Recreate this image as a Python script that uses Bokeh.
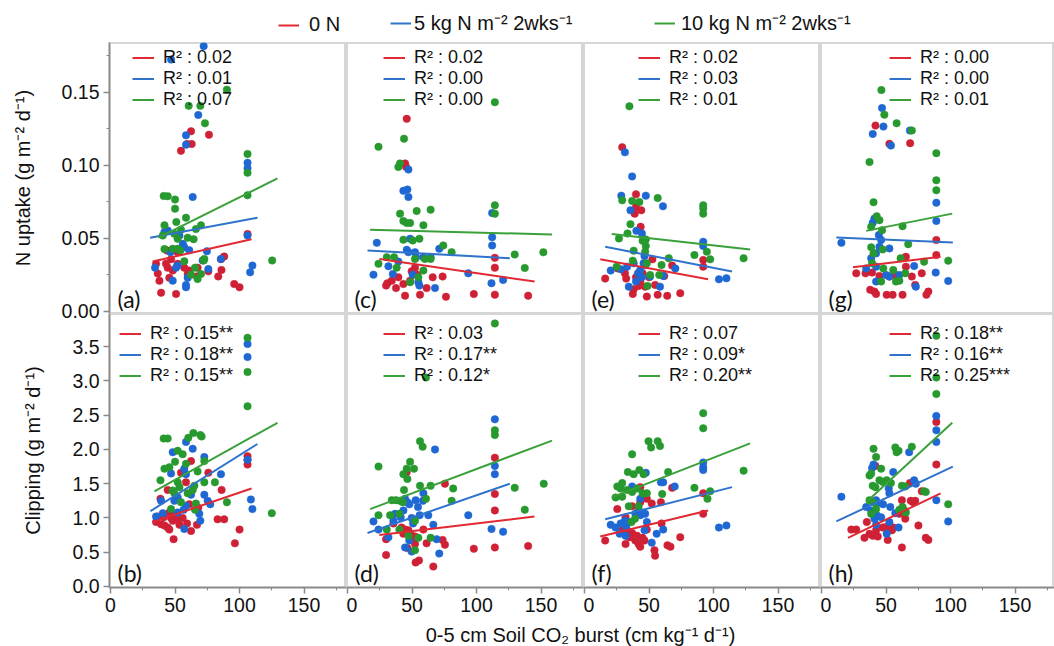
from bokeh.plotting import figure
from bokeh.layouts import column, row
from bokeh.models import (Range1d, Legend, LegendItem, Label, FixedTicker,
                          NumeralTickFormatter)
from bokeh.embed import file_html
from bokeh.resources import INLINE

# ---------------- data ----------------
series_names = ["0 N", "5 kg N m\u207b\u00b2 2wks\u207b\u00b9", "10 kg N m\u207b\u00b2 2wks\u207b\u00b9"]
y_title_top = "N uptake (g m\u207b\u00b2 d\u207b\u00b9)"
y_title_bottom = "Clipping (g m\u207b\u00b2 d\u207b\u00b9)"
x_title = "0-5 cm Soil CO\u2082 burst (cm kg\u207b\u00b9 d\u207b\u00b9)"
panel_tags = ["(a)", "(c)", "(e)", "(g)", "(b)", "(d)", "(f)", "(h)"]

x_ticks = [0, 50, 100, 150]
x_minor = [25, 75, 125, 175]
top_y_ticks = [0.00, 0.05, 0.10, 0.15]
top_y_minor = [0.025, 0.075, 0.125, 0.175]
bot_y_ticks = [0.0, 0.5, 1.0, 1.5, 2.0, 2.5, 3.0, 3.5]

# panel (a)  N uptake
a_red_x = [54.6, 59.3, 62.4, 62.9, 76.3, 106.2, 43.8, 35.3, 36.6, 37.9, 39.2, 43.0, 44.3, 45.6, 48.2, 50.8, 52.0, 57.2, 59.8, 61.0, 67.0, 75.8, 83.5, 86.0, 88.1, 85.6, 95.9, 100.0, 46.9, 67.5, 52.0]
a_red_y = [0.110, 0.1147, 0.1234, 0.1147, 0.121, 0.053, 0.0417, 0.0326, 0.026, 0.021, 0.0128, 0.0326, 0.030, 0.023, 0.028, 0.012, 0.0326, 0.030, 0.0257, 0.028, 0.024, 0.0275, 0.024, 0.0284, 0.0376, 0.0358, 0.0188, 0.0165, 0.0358, 0.030, 0.0406]
a_blue_x = [72.2, 46.9, 68.0, 58.5, 58.5, 63.7, 106.2, 106.2, 106.2, 110.0, 108.2, 34.5, 41.8, 44.3, 46.4, 48.2, 50.8, 52.0, 53.4, 56.0, 57.2, 58.5, 59.8, 61.0, 71.4, 74.7, 75.8, 85.6, 58.5]
a_blue_y = [0.1817, 0.1725, 0.1346, 0.1206, 0.1142, 0.0784, 0.1018, 0.098, 0.052, 0.0314, 0.0268, 0.030, 0.0544, 0.0555, 0.0406, 0.0211, 0.030, 0.0314, 0.052, 0.0463, 0.044, 0.0165, 0.023, 0.042, 0.0349, 0.0413, 0.029, 0.036, 0.0181]
a_green_x = [90.2, 60.6, 69.6, 73.2, 106.2, 106.2, 106.2, 125.3, 41.2, 44.3, 50.0, 50.0, 51.0, 58.5, 41.8, 40.5, 49.5, 52.0, 54.6, 59.8, 64.4, 66.2, 70.1, 41.8, 48.2, 52.0, 54.1, 57.2, 65.5, 62.4, 67.5, 70.1, 72.7, 72.2]
a_green_y = [0.1518, 0.1408, 0.1408, 0.1289, 0.1078, 0.095, 0.0796, 0.0349, 0.0791, 0.0789, 0.0766, 0.0704, 0.0612, 0.0642, 0.059, 0.052, 0.0532, 0.0498, 0.056, 0.0505, 0.0495, 0.0564, 0.059, 0.0427, 0.0429, 0.0429, 0.0417, 0.0344, 0.030, 0.0252, 0.0222, 0.0257, 0.036, 0.0349]

# panel (c)
c_red_x = [45.9, 44.6, 45.4, 29.9, 30.9, 34.3, 37.6, 39.4, 43.3, 44.6, 48.5, 49.7, 52.3, 54.1, 56.2, 61.3, 66.0, 73.7, 76.3, 97.9, 114.2, 114.2, 114.2, 140.0]
c_red_y = [0.1319, 0.1014, 0.099, 0.0177, 0.0193, 0.0211, 0.016, 0.0234, 0.0188, 0.0108, 0.0211, 0.0275, 0.030, 0.0252, 0.0115, 0.016, 0.0234, 0.0239, 0.0101, 0.0119, 0.0367, 0.030, 0.0115, 0.0108]
c_blue_x = [47.2, 43.3, 46.4, 47.2, 22.7, 20.1, 31.7, 35.1, 39.4, 45.9, 47.2, 48.5, 52.3, 53.1, 54.9, 55.7, 50.5, 58.8, 64.4, 67.8, 71.1, 93.6, 112.1, 112.1, 112.1, 111.6, 120.6]
c_blue_y = [0.0972, 0.0826, 0.0835, 0.0784, 0.047, 0.0252, 0.031, 0.0257, 0.0342, 0.0422, 0.0406, 0.0498, 0.0406, 0.0372, 0.020, 0.0177, 0.0252, 0.0372, 0.0372, 0.016, 0.0429, 0.0261, 0.0452, 0.0509, 0.0674, 0.0193, 0.0216]
c_green_x = [24.0, 43.8, 39.4, 40.7, 114.2, 114.2, 114.2, 40.7, 43.3, 45.9, 48.5, 53.6, 58.8, 64.4, 43.3, 50.5, 55.7, 24.0, 30.4, 36.1, 38.1, 52.3, 60.0, 64.4, 74.2, 80.7, 48.5, 54.9, 58.8, 129.6, 137.4, 151.8]
c_green_y = [0.1128, 0.1183, 0.099, 0.1014, 0.1433, 0.0727, 0.067, 0.067, 0.0619, 0.0606, 0.0606, 0.0688, 0.059, 0.0697, 0.0491, 0.0486, 0.0498, 0.0326, 0.0372, 0.0372, 0.030, 0.036, 0.036, 0.036, 0.0452, 0.0406, 0.020, 0.0234, 0.028, 0.039, 0.0298, 0.0405]

# panel (e)
e_red_x = [29.2, 39.9, 39.9, 44.0, 38.9, 43.5, 16.0, 31.3, 32.3, 37.4, 38.1, 39.9, 41.9, 43.2, 45.0, 47.0, 48.3, 50.1, 52.6, 54.7, 56.7, 61.8, 64.1, 67.9, 74.2, 92.0, 92.0, 25.7]
e_red_y = [0.1125, 0.0802, 0.0716, 0.0693, 0.067, 0.058, 0.0225, 0.0261, 0.0225, 0.012, 0.0152, 0.0234, 0.0175, 0.0205, 0.0261, 0.017, 0.0102, 0.0234, 0.0357, 0.0182, 0.0114, 0.0243, 0.0107, 0.0314, 0.0125, 0.0352, 0.0307, 0.0295]
e_blue_x = [31.3, 36.9, 28.5, 47.5, 60.8, 35.6, 40.2, 44.5, 20.3, 28.0, 33.0, 34.3, 38.1, 39.9, 41.4, 43.2, 44.5, 45.8, 46.5, 50.8, 58.5, 61.0, 70.4, 92.0, 92.0, 104.2, 110.0, 47.0]
e_blue_y = [0.109, 0.0925, 0.0793, 0.0793, 0.072, 0.0693, 0.0552, 0.0534, 0.028, 0.0289, 0.0307, 0.017, 0.033, 0.0205, 0.0261, 0.0284, 0.0234, 0.033, 0.038, 0.0239, 0.017, 0.0243, 0.0295, 0.0477, 0.0448, 0.022, 0.0227, 0.0318]
e_green_x = [34.8, 29.2, 36.9, 42.5, 56.7, 35.6, 33.3, 26.7, 47.5, 47.5, 47.0, 38.1, 37.4, 48.3, 59.7, 65.3, 24.9, 50.8, 57.9, 48.8, 92.0, 92.0, 92.0, 85.2, 94.8, 97.4, 123.3, 45.0]
e_green_y = [0.1405, 0.0761, 0.0757, 0.075, 0.0777, 0.0598, 0.0534, 0.050, 0.0493, 0.0448, 0.0409, 0.0416, 0.0348, 0.033, 0.0318, 0.0364, 0.0307, 0.025, 0.025, 0.0175, 0.0727, 0.0705, 0.067, 0.0386, 0.0409, 0.0357, 0.0364, 0.0484]

# panel (g)
g_red_x = [41.8, 52.6, 68.7, 89.0, 89.0, 26.9, 34.1, 37.7, 41.0, 42.3, 44.9, 50.5, 55.1, 57.2, 62.8, 65.4, 65.4, 70.0, 72.6, 77.7, 81.3, 82.8, 52.6, 39.2]
g_red_y = [0.1273, 0.1148, 0.1152, 0.0489, 0.0386, 0.0261, 0.0261, 0.0148, 0.0136, 0.012, 0.0243, 0.0114, 0.0114, 0.025, 0.0114, 0.0307, 0.0375, 0.0239, 0.0182, 0.0261, 0.0114, 0.0136, 0.0239, 0.0266]
g_blue_x = [46.9, 39.7, 48.0, 53.8, 68.5, 89.0, 89.0, 15.4, 39.7, 41.0, 44.4, 46.2, 52.6, 38.5, 42.3, 44.9, 34.6, 42.3, 50.0, 52.6, 60.3, 71.8, 73.1, 88.5, 98.2, 42.3]
g_blue_y = [0.1393, 0.1216, 0.1266, 0.1136, 0.1239, 0.0745, 0.062, 0.047, 0.0607, 0.0636, 0.0523, 0.0489, 0.0432, 0.0364, 0.0398, 0.0443, 0.0295, 0.0307, 0.025, 0.0239, 0.025, 0.0311, 0.017, 0.0266, 0.0209, 0.0205]
g_green_x = [46.4, 48.7, 58.2, 70.0, 37.2, 89.0, 89.0, 89.0, 40.3, 42.8, 44.9, 38.5, 46.9, 62.8, 38.5, 40.3, 47.4, 67.2, 61.3, 39.2, 47.9, 55.6, 79.5, 98.2, 46.2, 57.7, 60.3, 64.9]
g_green_y = [0.1516, 0.1348, 0.1289, 0.1239, 0.1023, 0.1084, 0.0898, 0.083, 0.0748, 0.0652, 0.0625, 0.058, 0.0557, 0.0584, 0.0439, 0.0398, 0.0425, 0.0461, 0.0364, 0.033, 0.0295, 0.0284, 0.0341, 0.0348, 0.0205, 0.0205, 0.0211, 0.0261]

# panel (b)  Clipping
b_red_x = [106.2, 106.2, 106.2, 62.4, 54.6, 58.5, 75.8, 44.3, 38.7, 61.1, 68.0, 86.1, 45.6, 50.0, 36.6, 41.2, 46.9, 48.2, 52.1, 55.9, 35.3, 39.2, 41.8, 44.3, 45.6, 53.4, 59.3, 62.4, 67.0, 48.9, 83.0, 88.1, 96.4, 100.0]
b_red_y = [1.90, 1.85, 1.78, 1.83, 1.66, 1.52, 1.66, 1.41, 1.28, 1.20, 1.15, 1.41, 1.08, 1.05, 1.02, 1.01, 1.00, 0.96, 0.97, 1.00, 0.94, 0.91, 0.89, 0.86, 0.83, 0.90, 0.92, 0.81, 0.90, 0.69, 0.98, 0.98, 0.63, 0.83]
b_blue_x = [106.2, 106.2, 106.2, 108.8, 110.0, 58.5, 63.7, 48.2, 72.7, 46.9, 58.5, 57.2, 72.7, 62.4, 52.1, 49.5, 39.2, 58.5, 77.3, 85.6, 35.3, 40.5, 52.1, 56.7, 68.8, 69.6, 57.2, 75.3]
b_blue_y = [3.54, 3.35, 1.85, 1.27, 1.13, 2.11, 2.01, 1.96, 1.89, 1.65, 1.64, 1.72, 1.34, 1.34, 1.30, 1.25, 1.25, 1.18, 1.20, 1.64, 1.02, 1.07, 1.08, 1.12, 1.06, 0.96, 0.84, 1.25]
b_green_x = [106.2, 106.2, 106.2, 125.0, 41.2, 44.3, 60.3, 64.2, 69.6, 70.6, 52.1, 55.9, 38.7, 41.8, 45.6, 50.0, 58.5, 72.7, 52.1, 48.2, 49.5, 53.4, 59.8, 63.7, 65.0, 72.7, 80.9, 67.5, 90.2, 46.9, 54.6, 66.2, 65.5]
b_green_y = [3.63, 3.13, 2.63, 1.07, 2.16, 2.16, 2.17, 2.24, 2.21, 2.19, 1.98, 1.93, 1.55, 1.72, 1.74, 1.82, 1.79, 1.83, 1.52, 1.40, 1.36, 1.45, 1.36, 1.41, 1.47, 1.52, 1.52, 1.68, 1.23, 1.13, 1.23, 1.21, 1.12]

# panel (d)
d_red_x = [45.9, 75.5, 114.2, 114.2, 114.2, 114.2, 29.9, 29.9, 35.6, 41.9, 44.6, 47.2, 48.5, 49.7, 51.0, 52.3, 46.4, 52.3, 52.8, 55.4, 58.8, 61.3, 66.5, 73.7, 75.5, 97.9, 140.0, 43.3]
d_red_y = [1.67, 1.50, 1.88, 1.35, 1.11, 0.57, 0.46, 0.69, 0.92, 0.86, 0.83, 0.82, 0.76, 0.74, 0.71, 0.73, 0.56, 0.62, 0.35, 0.38, 0.83, 0.63, 0.29, 0.68, 0.61, 0.55, 0.59, 0.77]
d_blue_x = [114.2, 114.2, 114.2, 111.6, 120.6, 93.6, 67.8, 20.1, 24.0, 31.7, 35.6, 36.9, 41.2, 43.3, 44.6, 46.4, 47.9, 49.7, 50.8, 52.8, 54.6, 55.9, 58.5, 62.6, 66.5, 69.1, 71.1, 47.9, 44.6, 49.7, 58.8]
d_blue_y = [2.44, 1.76, 1.64, 0.84, 0.80, 1.04, 2.00, 0.95, 0.83, 0.72, 0.96, 1.06, 1.01, 1.11, 1.28, 1.23, 1.20, 1.00, 0.92, 1.26, 1.16, 1.04, 1.25, 1.04, 0.90, 0.69, 0.48, 0.67, 0.57, 0.51, 1.36]
d_green_x = [114.2, 60.8, 114.2, 114.2, 56.2, 58.2, 48.5, 24.0, 45.9, 43.3, 46.4, 51.5, 43.8, 56.2, 64.4, 34.3, 37.6, 40.7, 42.8, 60.8, 81.9, 80.7, 129.6, 137.4, 24.0, 33.0, 40.2, 52.3, 47.2, 54.9, 52.3, 64.4, 30.4, 40.2, 152.1]
d_green_y = [3.84, 3.05, 2.28, 2.21, 2.12, 2.04, 1.82, 1.75, 1.72, 1.64, 1.57, 1.72, 1.41, 1.47, 1.47, 1.26, 1.26, 1.25, 1.23, 1.28, 1.43, 1.25, 1.44, 1.12, 1.04, 1.04, 1.06, 0.96, 0.74, 0.71, 0.53, 0.71, 0.83, 0.83, 1.50]

# panel (f)
f_red_x = [16.0, 25.4, 29.2, 31.8, 33.0, 34.8, 36.9, 38.1, 39.4, 40.7, 41.9, 43.2, 45.0, 46.5, 48.3, 36.9, 43.2, 43.2, 48.3, 52.1, 54.2, 54.7, 59.2, 59.7, 64.3, 66.6, 67.9, 74.2, 92.0, 92.0, 31.8]
f_red_y = [0.67, 1.13, 0.82, 0.62, 0.82, 0.72, 0.78, 0.71, 0.67, 0.74, 0.62, 0.58, 0.71, 0.67, 0.83, 1.17, 1.23, 1.45, 1.28, 1.21, 0.53, 0.45, 1.23, 0.92, 0.60, 0.58, 1.44, 0.72, 1.36, 1.06, 1.01]
f_blue_x = [92.0, 92.0, 92.0, 104.2, 110.0, 47.5, 59.2, 61.0, 69.9, 36.9, 43.2, 20.3, 24.1, 28.0, 31.3, 32.3, 34.3, 39.4, 41.9, 43.2, 44.5, 47.0, 48.3, 46.5, 52.1, 55.9, 61.0, 31.8, 27.2]
f_blue_y = [1.81, 1.74, 1.70, 0.86, 0.89, 1.66, 1.52, 1.52, 1.46, 1.46, 1.28, 0.90, 0.86, 0.92, 0.96, 0.87, 0.94, 1.06, 1.10, 1.04, 1.08, 1.06, 0.94, 0.82, 0.64, 0.77, 0.83, 0.74, 0.77]
f_green_x = [92.0, 92.0, 49.6, 56.7, 51.6, 58.5, 36.9, 33.6, 38.1, 42.5, 45.8, 64.8, 25.4, 28.0, 33.0, 36.9, 40.7, 45.0, 48.3, 24.1, 29.2, 34.3, 41.9, 39.1, 36.4, 60.2, 85.2, 97.4, 95.3, 123.3, 29.2]
f_green_y = [2.53, 2.31, 2.12, 2.12, 2.03, 2.05, 1.93, 1.67, 1.64, 1.70, 1.64, 1.67, 1.46, 1.43, 1.41, 1.38, 1.43, 1.36, 1.36, 1.30, 1.31, 1.17, 1.17, 0.99, 0.94, 1.35, 1.44, 1.39, 1.28, 1.69, 1.51]

# panel (h)
h_red_x = [89.0, 89.0, 68.5, 41.8, 69.2, 71.0, 72.6, 77.7, 62.3, 64.1, 60.3, 23.1, 26.9, 33.3, 35.1, 37.2, 39.7, 42.3, 43.6, 47.4, 50.0, 51.3, 52.6, 54.6, 55.6, 62.3, 75.1, 80.8, 82.8, 64.9]
h_red_y = [2.40, 1.78, 1.51, 1.76, 1.25, 1.23, 1.25, 1.39, 1.26, 1.11, 1.06, 0.83, 0.83, 0.71, 0.94, 0.77, 0.74, 0.82, 0.73, 0.86, 0.87, 0.68, 0.86, 0.82, 0.86, 0.57, 0.89, 0.71, 0.68, 0.99]
h_blue_x = [89.0, 89.0, 89.0, 89.0, 98.2, 15.4, 67.9, 55.6, 40.3, 39.2, 71.8, 73.1, 52.1, 52.6, 42.3, 42.8, 47.7, 53.3, 34.6, 38.5, 42.8, 41.0, 46.2, 52.6, 59.7, 42.3, 50.5, 57.2]
h_blue_y = [2.49, 2.28, 2.11, 1.26, 0.95, 1.31, 1.96, 1.67, 1.78, 1.73, 1.55, 1.50, 1.43, 1.36, 1.26, 1.21, 1.20, 1.16, 1.16, 1.11, 1.04, 0.99, 1.01, 0.94, 0.86, 0.90, 0.77, 1.07]
h_green_x = [89.0, 89.0, 89.0, 98.2, 40.3, 42.3, 57.2, 58.2, 59.7, 70.0, 37.2, 38.5, 46.2, 44.9, 47.9, 50.5, 53.8, 39.7, 41.8, 62.3, 64.9, 79.5, 80.8, 37.2, 39.7, 42.3, 38.5, 60.3, 65.4, 62.8]
h_green_y = [3.66, 3.05, 2.81, 1.20, 2.01, 1.89, 2.03, 1.96, 1.98, 2.04, 1.62, 1.65, 1.72, 1.55, 1.52, 1.55, 1.51, 1.47, 1.45, 1.47, 1.46, 1.39, 1.38, 1.26, 1.23, 1.13, 1.06, 1.12, 1.08, 1.16]

# fitted regression lines: [x_start, x_end] and [y_start, y_end] per series (0 N, 5 kg, 10 kg)
a_fit_x = [[32.7, 109.3], [30.7, 113.9], [37.1, 129.4]]
a_fit_y = [[0.0342, 0.0495], [0.0505, 0.0642], [0.0505, 0.0911]]
c_fit_x = [[24.7, 145.0], [15.5, 125.8], [17.5, 158.5]]
c_fit_y = [[0.036, 0.0205], [0.0417, 0.0365], [0.056, 0.0527]]
e_fit_x = [[12.2, 95.8], [16.0, 114.4], [21.1, 128.4]]
e_fit_y = [[0.0357, 0.022], [0.0443, 0.0273], [0.053, 0.0425]]
g_fit_x = [[24.4, 92.3], [11.5, 101.8], [34.6, 101.3]]
g_fit_y = [[0.0302, 0.0375], [0.0507, 0.0473], [0.0552, 0.067]]
b_fit_x = [[32.7, 109.3], [30.9, 113.9], [34.0, 129.4]]
b_fit_y = [[0.94, 1.43], [1.10, 2.08], [1.39, 2.39]]
d_fit_x = [[24.7, 144.9], [15.5, 125.8], [17.5, 158.5]]
d_fit_y = [[0.75, 1.02], [0.78, 1.50], [1.13, 2.13]]
f_fit_x = [[12.2, 95.8], [16.0, 114.4], [21.1, 128.4]]
f_fit_y = [[0.73, 1.11], [0.98, 1.45], [1.30, 2.09]]
h_fit_x = [[20.5, 92.3], [11.5, 101.8], [34.6, 101.3]]
h_fit_y = [[0.71, 1.36], [0.95, 1.75], [1.23, 2.39]]

# R^2 labels
a_r2 = ["0.02", "0.01", "0.07"]
c_r2 = ["0.02", "0.00", "0.00"]
e_r2 = ["0.02", "0.03", "0.01"]
g_r2 = ["0.00", "0.00", "0.01"]
b_r2 = ["0.15**", "0.18**", "0.15**"]
d_r2 = ["0.03", "0.17**", "0.12*"]
f_r2 = ["0.07", "0.09*", "0.20**"]
h_r2 = ["0.18**", "0.16**", "0.25***"]

# ---------------- styling ----------------
point_colors = ["#cf2136", "#1f68d4", "#27992f"]
line_colors = ["#e02a33", "#2f73cb", "#3aa13a"]
FONT = "Liberation Sans"
TAG_FONT = "Lato"
AXIS_GRAY = "#8a8a8a"
SEP_GRAY = "#d6d6d6"

FRAME_W = [237, 237, 237, 234]
LEFT_W = 109
HEAD_H = 42
TOP_H = 271
OVERLAP = 12
BOT_H = 274
XAX_H = 36
FOOT_H = 646 - HEAD_H - TOP_H - BOT_H - XAX_H
PX_PER_X = 1.29
X_LO = -0.8
TOP_Y = (-0.0014, 0.1842)
BOT_Y = (-0.015, 3.985)
LEG_DX = [[23, 37, 55, 69], [10, 37, 55, 69]]
LEG_TOP = [11, 16]
ROW_H = 19


def build_panel(col, rowi, xs, ys, fit_x, fit_y, r2, tag):
    fw = FRAME_W[col]
    fh = TOP_H if rowi == 0 else BOT_H
    ylo, yhi = TOP_Y if rowi == 0 else BOT_Y
    p = figure(frame_width=fw, frame_height=fh,
               x_range=Range1d(X_LO, X_LO + fw / PX_PER_X), y_range=Range1d(ylo, yhi),
               output_backend="svg", toolbar_location=None,
               x_axis_location="below" if rowi == 1 else None,
               y_axis_location="left" if col == 0 else None,
               min_border=0)
    p.min_border_left = LEFT_W if col == 0 else 0
    p.min_border_bottom = XAX_H if rowi == 1 else OVERLAP
    p.min_border_top = 0
    p.min_border_right = 0
    p.grid.visible = False
    p.outline_line_color = SEP_GRAY
    p.outline_line_width = 3
    p.background_fill_color = "white"
    p.border_fill_alpha = 0

    for i in range(3):
        p.scatter(xs[i], ys[i], size=7.5, fill_color=point_colors[i],
                  line_color=point_colors[i], line_width=0.5)
    lines = []
    for i in range(3):
        lines.append(p.line(fit_x[i], fit_y[i], line_color=line_colors[i], line_width=2))

    items = [LegendItem(label="R\u00b2 : " + r2[i], renderers=[lines[i]]) for i in range(3)]
    leg = Legend(items=items,
                 location=(LEG_DX[rowi][col], fh - LEG_TOP[rowi] - 3 * ROW_H),
                 label_text_font=FONT, label_text_font_size="18px",
                 label_text_color="#111111", label_text_line_height=1.0,
                 glyph_width=22, glyph_height=ROW_H, label_height=ROW_H,
                 label_standoff=9, spacing=0, padding=0, margin=0,
                 border_line_alpha=0, background_fill_alpha=0)
    p.add_layout(leg)

    p.add_layout(Label(x=X_LO, y=ylo, x_offset=8, y_offset=1, text=tag,
                       text_font=TAG_FONT, text_font_size="23px",
                       text_color="#111111", text_baseline="bottom"))

    if col == 0:
        ax = p.yaxis[0]
        if rowi == 0:
            ax.ticker = FixedTicker(ticks=top_y_ticks, minor_ticks=top_y_minor)
            ax.formatter = NumeralTickFormatter(format="0.00")
            ax.axis_label = y_title_top
        else:
            ax.ticker = FixedTicker(ticks=bot_y_ticks, minor_ticks=[])
            ax.formatter = NumeralTickFormatter(format="0.0")
            ax.axis_label = y_title_bottom
        ax.axis_label_standoff = 25
    if rowi == 1:
        ax = p.xaxis[0]
        ax.ticker = FixedTicker(ticks=x_ticks, minor_ticks=x_minor)
        ax.formatter = NumeralTickFormatter(format="0")
        ax.axis_label = None
    for ax in p.axis:
        ax.axis_line_color = AXIS_GRAY
        ax.axis_line_width = 1.5
        ax.major_tick_line_color = AXIS_GRAY
        ax.minor_tick_line_color = AXIS_GRAY
        ax.major_tick_line_width = 1.5
        ax.major_tick_out = 6
        ax.major_tick_in = 0
        ax.minor_tick_out = 3
        ax.minor_tick_in = 0
        ax.major_label_standoff = 4
        ax.major_label_text_font = FONT
        ax.major_label_text_font_size = "19.5px"
        ax.major_label_text_color = "#111111"
        ax.axis_label_text_font = FONT
        ax.axis_label_text_font_size = "20px"
        ax.axis_label_text_font_style = "normal"
        ax.axis_label_text_color = "#111111"
    return p


top_specs = [
    ([a_red_x, a_blue_x, a_green_x], [a_red_y, a_blue_y, a_green_y], a_fit_x, a_fit_y, a_r2),
    ([c_red_x, c_blue_x, c_green_x], [c_red_y, c_blue_y, c_green_y], c_fit_x, c_fit_y, c_r2),
    ([e_red_x, e_blue_x, e_green_x], [e_red_y, e_blue_y, e_green_y], e_fit_x, e_fit_y, e_r2),
    ([g_red_x, g_blue_x, g_green_x], [g_red_y, g_blue_y, g_green_y], g_fit_x, g_fit_y, g_r2),
]
bot_specs = [
    ([b_red_x, b_blue_x, b_green_x], [b_red_y, b_blue_y, b_green_y], b_fit_x, b_fit_y, b_r2),
    ([d_red_x, d_blue_x, d_green_x], [d_red_y, d_blue_y, d_green_y], d_fit_x, d_fit_y, d_r2),
    ([f_red_x, f_blue_x, f_green_x], [f_red_y, f_blue_y, f_green_y], f_fit_x, f_fit_y, f_r2),
    ([h_red_x, h_blue_x, h_green_x], [h_red_y, h_blue_y, h_green_y], h_fit_x, h_fit_y, h_r2),
]

top_row = [build_panel(c, 0, *top_specs[c], panel_tags[c]) for c in range(4)]
bot_row = [build_panel(c, 1, *bot_specs[c], panel_tags[4 + c]) for c in range(4)]

# header with the series legend
head = figure(frame_width=1054, frame_height=HEAD_H, x_range=Range1d(0, 1), y_range=Range1d(0, 1),
              output_backend="svg", toolbar_location=None, x_axis_location=None,
              y_axis_location=None, min_border=0)
head.outline_line_color = None
head.grid.visible = False
key_x = [278, 390, 654]
key_standoff = [10, 3, 6]
nan = float("nan")
for i in range(3):
    r = head.line([nan], [nan], line_color=line_colors[i], line_width=2)
    head.add_layout(Legend(items=[LegendItem(label=series_names[i], renderers=[r])],
                           location=(key_x[i], 6), label_text_font=FONT,
                           label_text_font_size="20px", label_text_color="#111111",
                           glyph_width=21, glyph_height=22, label_height=22,
                           label_standoff=key_standoff[i], padding=0, margin=0,
                           border_line_alpha=0, background_fill_alpha=0))

# footer with the shared x-axis title
foot = figure(frame_width=1054, frame_height=FOOT_H, x_range=Range1d(0, 1), y_range=Range1d(0, 1),
              output_backend="svg", toolbar_location=None, x_axis_location=None,
              y_axis_location=None, min_border=0)
foot.outline_line_color = None
foot.grid.visible = False
foot.add_layout(Label(x=580, y=FOOT_H - 11, x_units="screen", y_units="screen", text=x_title,
                      text_align="center", text_baseline="middle", text_font=FONT,
                      text_font_size="20px", text_color="#111111"))

layout = column(head, row(*top_row), row(*bot_row, margin=(-OVERLAP, 0, 0, 0)), foot)

with open("out.html", "w") as fh_:
    fh_.write(file_html(layout, INLINE))
